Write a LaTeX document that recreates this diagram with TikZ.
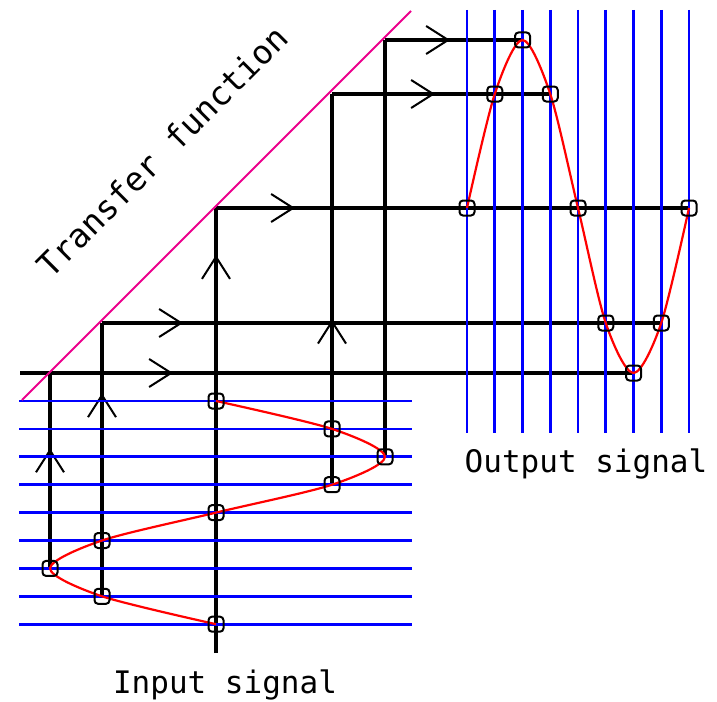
\documentclass[tikz,border=0pt]{standalone}
\usepackage{fontspec}
\setmonofont{DejaVu Sans Mono}
\usetikzlibrary{arrows.meta,decorations.markings}

\tikzset{
  ray/.style={line width=3.3pt},
  gridline/.style={blue, line width=2.8pt},
  sig/.style={red, line width=2.2pt},
  tf/.style={magenta, line width=1.8pt},
  pt/.style={draw, line width=2pt, rounded corners=3.5pt, minimum size=15pt, inner sep=0pt},
  barb/.style={postaction={decorate},
    decoration={markings, mark=at position #1 with {\arrow{Straight Barb[length=22pt,width=28pt,line width=2pt]}}}},
  lbl/.style={font=\ttfamily\fontsize{31}{36}\selectfont, inner sep=0pt}
}

\begin{document}
\begin{tikzpicture}[x=1pt,y=-1pt]
\useasboundingbox (0,0) rectangle (717,701);

    % points on the transfer function
    \coordinate (t0) at (20,373);
    \coordinate (t1) at (385,40);
    \coordinate (t2) at (332,94);
    \coordinate (t3) at (216,208);
    \coordinate (t4) at (102,323);
    \coordinate (t5) at (50,373);
    \coordinate (b3) at (216,653);

    % input and output samples
    \foreach \k/\v/\w in {0/216/208, 1/332/94, 2/385/40, 3/332/94, 4/216/208, 5/102/323, 6/50/373, 7/102/323, 8/216/208} {
        \coordinate (i\k) at (\v,{401+27.9*\k});
        \coordinate (o\k) at ({467+27.75*\k},\w);
    }

    % projections
    \draw[ray,barb=153pt] (t0) -- (o6);
    \draw[ray,barb=81pt] (t4) -- (o7);
    \draw[ray,barb=79pt] (t3) -- (o8);
    \draw[ray,barb=103pt] (t2) -- (o3);
    \draw[ray,barb=65pt] (t1) -- (o2);
    \draw[ray,barb=120pt] (i6) -- (t5);
    \draw[ray,barb=203pt] (i7) -- (t4);
    \draw[ray,barb=398pt] (b3) -- (t3);
    \draw[ray,barb=165pt] (i3) -- (t2);
    \draw[ray] (i2) -- (t1);

    % sample grids
    \foreach \k in {0,...,8} {
        \draw[gridline] (19,{401+27.9*\k}) -- (412,{401+27.9*\k});
        \draw[gridline] ({467+27.75*\k},10) -- ({467+27.75*\k},433);
    }

    \draw[tf] (22,400) -- (411,11);

    % signals
    \draw[sig] plot[smooth] coordinates {(i0) (i1) (i2) (i3) (i4) (i5) (i6) (i7) (i8)};
    \draw[sig] plot[smooth] coordinates {(o0) (o1) (o2) (o3) (o4) (o5) (o6) (o7) (o8)};
    \foreach \k in {0,...,8} {
        \node[pt] (p\k) at (i\k) {};
        \node[pt] (q\k) at (o\k) {};
    }

    \node[lbl, anchor=base] (inlbl) at (225,693) {Input signal};
    \node[lbl, anchor=base] (outlbl) at (586,472) {Output signal};
    \node[lbl, anchor=base, rotate=45, font=\ttfamily\fontsize{33}{36}\selectfont] (tflbl) at (171,160) {Transfer function};

\end{tikzpicture}
\end{document}
